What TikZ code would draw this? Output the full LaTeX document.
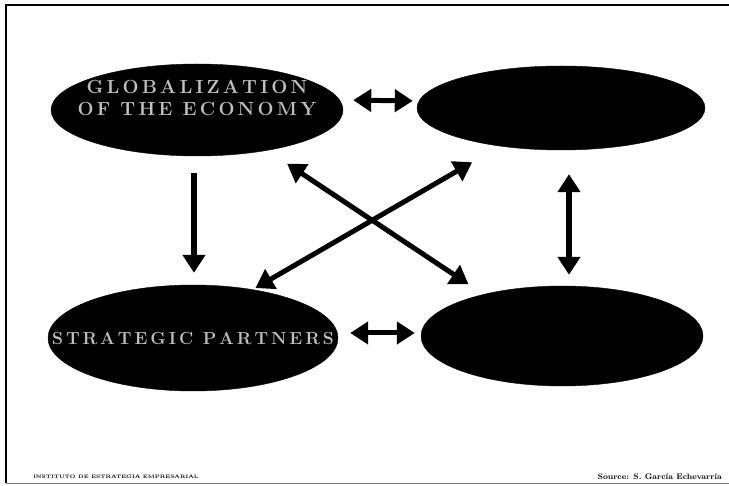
\documentclass[tikz,border=0pt]{standalone}
\usepackage{tikz}
\usetikzlibrary{shapes.geometric}
\usetikzlibrary{arrows.meta}
\usetikzlibrary{calc}

\tikzset{
	blob/.style={ellipse, fill=black, draw=black, inner ysep=-20pt, inner xsep=-80pt, text=gray!50, font=\fontsize{19}{22}\selectfont\bfseries, align=center},
	bigarrow/.style={line width=5.5pt, -{Triangle[length=18pt, width=22pt]}},
	dblarrow/.style={line width=5pt, {Triangle[length=18pt, width=22pt]}-{Triangle[length=18pt, width=22pt]}},
	footer/.style={inner sep=0pt, font=\fontsize{5}{7}\selectfont\bfseries}
}

\begin{document}
\begin{tikzpicture}[x=1pt, y=-1pt]
	\useasboundingbox (0,0) rectangle (729,486);
	\draw[line width=1.2pt] (729,5) -- (6,5) -- (6,483);
	\draw[line width=0.8pt, gray] (6,483) -- (729,483);
	
	\node[blob, text depth=24pt, minimum width=292pt, minimum height=92pt] (glob) at (197,110) {G\,L\,O\,B\,A\,L\,I\,Z\,A\,T\,I\,O\,N\\O\,F\, T\,H\,E\, E\,C\,O\,N\,O\,M\,Y};
	\node[blob, minimum width=288pt, minimum height=84pt] (ne) at (561,108) {};
	\node[blob, font=\fontsize{17.5}{20}\selectfont\bfseries, minimum width=290pt, minimum height=106pt] (partners) at (193,338) {S\,T\,R\,A\,T\,E\,G\,I\,C \,P\,A\,R\,T\,N\,E\,R\,S};
	\node[blob, minimum width=282pt, minimum height=100pt] (se) at (562,336) {};
	
	\draw[dblarrow, shorten <=10pt, shorten >=4pt] ([yshift=10pt]glob.east) -- ([yshift=7pt]ne.west);
	\draw[dblarrow, shorten <=12pt, shorten >=6pt] ([yshift=5pt]partners.east) -- ([yshift=3pt]se.west);
	\draw[bigarrow, shorten <=17pt, shorten >=12pt] ([xshift=-3pt]glob.south) -- ([xshift=-3pt]glob.south |- partners.north);
	\draw[dblarrow, line width=6pt, shorten <=24pt, shorten >=11pt] ([xshift=8pt]ne.south) -- ([xshift=8pt]ne.south |- se.north);
	\draw[dblarrow, shorten <=24pt, shorten >=18pt] (glob.-30) -- (se.152);
	\draw[dblarrow, shorten <=32pt, shorten >=3pt] (ne.-148) -- (partners.39);
	
	\node[footer, anchor=west] (inst) at (33,477) {INSTITUTO DE ESTRATEGIA EMPRESARIAL};
	\node[footer, anchor=east, font=\fontsize{8}{9}\selectfont\bfseries] (src) at (722,477) {Source: S. García Echevarría};
\end{tikzpicture}
\end{document}
